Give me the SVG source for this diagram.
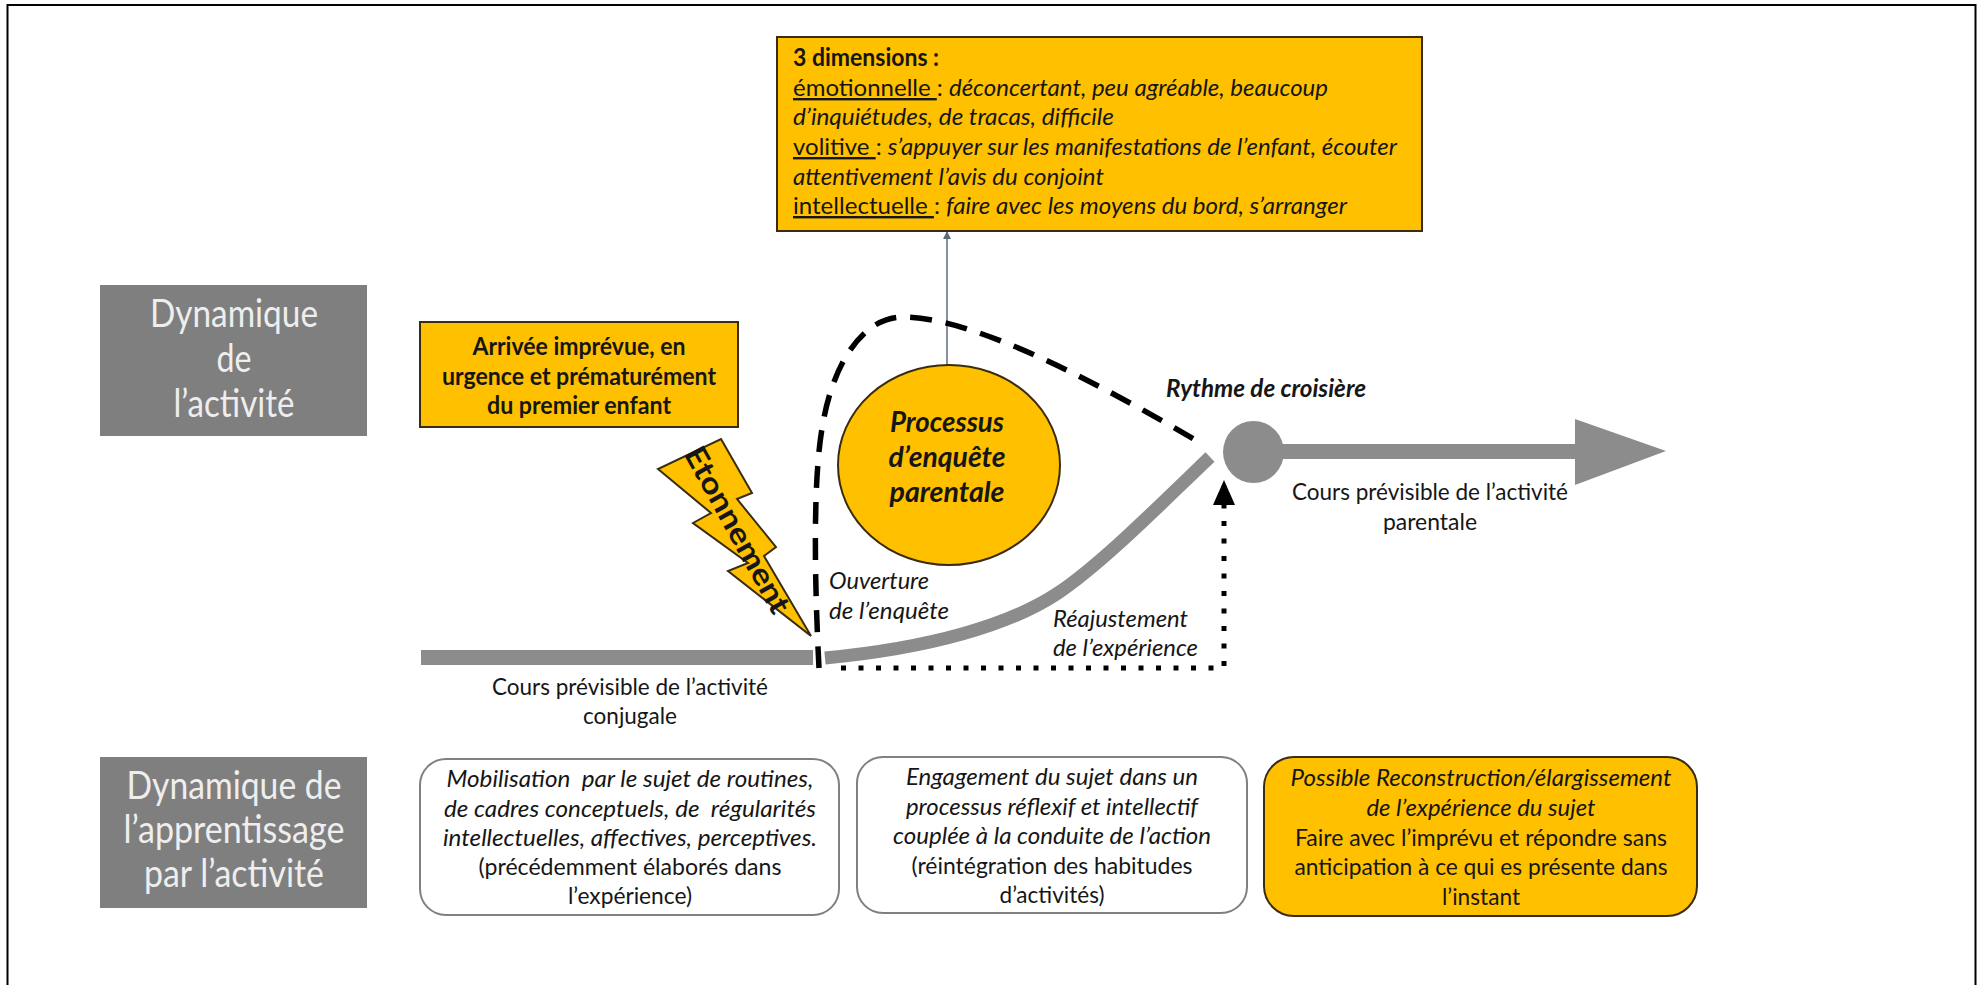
<svg xmlns="http://www.w3.org/2000/svg" width="1982" height="985" viewBox="0 0 1982 985">
<defs>
<marker id="thin" markerWidth="8" markerHeight="10" refX="7" refY="4" orient="auto" markerUnits="userSpaceOnUse"><path d="M0 0L8 4L0 8Z" fill="#5d6b78"/></marker>
<marker id="solid" markerWidth="26" markerHeight="22" refX="25" refY="11" orient="auto" markerUnits="userSpaceOnUse"><path d="M0 0L25 11L0 22Z" fill="#000"/></marker>
</defs>
<style>
text{font-family:Lato,"Liberation Sans",sans-serif;font-size:24px;fill:#161616;white-space:pre}
.m{text-anchor:middle}
.i{font-style:italic}
.b{font-weight:700}
.head{font-size:38px;fill:#eeeeee;text-anchor:middle}
.or{fill:#ffc000;stroke:#3a2c10;stroke-width:2}
.gb{fill:#7f7f7f}
.rw{fill:#fff;stroke:#808080;stroke-width:2}
.g{fill:#8c8c8c}
.u{text-decoration:underline}
</style>
<rect width="1982" height="985" fill="#fff"/>
<rect id="frame" x="7.5" y="5" width="1968" height="990" fill="none" stroke="#000" stroke-width="2"/>

<g id="connectors" fill="none">
<path d="M947 365V232" stroke="#5d6b78" stroke-width="1.5" marker-end="url(#thin)"/>
<path d="M819 668C815 590 812 480 823 423C833 365 862 317 903 317C960 317 1060 360 1202 444" stroke="#000" stroke-width="5.5" stroke-dasharray="22 14"/>
<path d="M825 658C930 648 1010 625 1058 593C1100 565 1160 505 1210 457" stroke="#8c8c8c" stroke-width="13"/>
<path d="M841 668H1224V480" stroke="#000" stroke-width="5" stroke-dasharray="5 12.5" marker-end="url(#solid)"/>
</g>

<g id="dyn-activite"><rect class="gb" x="100" y="285" width="267" height="151"/>
<text class="head" x="234" y="327" textLength="168" lengthAdjust="spacingAndGlyphs">Dynamique</text>
<text class="head" x="234" y="372" textLength="35" lengthAdjust="spacingAndGlyphs">de</text>
<text class="head" x="234" y="417" textLength="121" lengthAdjust="spacingAndGlyphs">l’activité</text></g>

<g id="dyn-apprentissage"><rect class="gb" x="100" y="757" width="267" height="151"/>
<text class="head" x="234" y="799" textLength="215" lengthAdjust="spacingAndGlyphs">Dynamique de</text>
<text class="head" x="234" y="843" textLength="221" lengthAdjust="spacingAndGlyphs">l’apprentissage</text>
<text class="head" x="234" y="887" textLength="180" lengthAdjust="spacingAndGlyphs">par l’activité</text></g>

<g id="dimensions"><rect class="or" x="777" y="37" width="645" height="194"/>
<text class="b" x="793" y="66" textLength="146" lengthAdjust="spacingAndGlyphs">3 dimensions :</text>
<text x="793" y="96" textLength="535" lengthAdjust="spacingAndGlyphs"><tspan class="u">émotionnelle </tspan>: <tspan class="i">déconcertant, peu agréable, beaucoup</tspan></text>
<text class="i" x="793" y="125" textLength="321" lengthAdjust="spacingAndGlyphs">d’inquiétudes, de tracas, difficile</text>
<text x="793" y="155" textLength="604" lengthAdjust="spacingAndGlyphs"><tspan class="u">volitive </tspan>: <tspan class="i">s’appuyer sur les manifestations de l’enfant, écouter</tspan></text>
<text class="i" x="793" y="185" textLength="311" lengthAdjust="spacingAndGlyphs">attentivement l’avis du conjoint</text>
<text x="793" y="214" textLength="554" lengthAdjust="spacingAndGlyphs"><tspan class="u">intellectuelle </tspan>: <tspan class="i">faire avec les moyens du bord, s’arranger</tspan></text></g>

<g id="arrivee"><rect class="or" x="420" y="322" width="318" height="105"/>
<text class="b m" x="579" y="355" textLength="213" lengthAdjust="spacingAndGlyphs">Arrivée imprévue, en</text>
<text class="b m" x="579" y="385" textLength="274" lengthAdjust="spacingAndGlyphs">urgence et prématurément</text>
<text class="b m" x="579" y="414" textLength="184" lengthAdjust="spacingAndGlyphs">du premier enfant</text></g>

<g id="etonnement"><polygon class="or" points="721,439 752,493 737,499 776,547 764,556 811,636 728,571 748,563 693,523 711,513 658,469"/>
<text class="m" transform="translate(737 530) rotate(61)" x="0" y="10" style="font-size:30px;font-weight:700" textLength="186" lengthAdjust="spacingAndGlyphs">Etonnement</text></g>

<g id="processus"><ellipse class="or" cx="949" cy="465" rx="111" ry="100"/>
<text class="b i m" x="947" y="432" style="font-size:29px" textLength="114" lengthAdjust="spacingAndGlyphs">Processus</text>
<text class="b i m" x="947" y="467" style="font-size:29px" textLength="117" lengthAdjust="spacingAndGlyphs">d’enquête</text>
<text class="b i m" x="947" y="502" style="font-size:29px" textLength="115" lengthAdjust="spacingAndGlyphs">parentale</text></g>

<g id="cours-conjugal"><rect class="g" x="421" y="650" width="392" height="15"/>
<text class="m" x="630" y="695" textLength="276" lengthAdjust="spacingAndGlyphs">Cours prévisible de l’activité</text>
<text class="m" x="630" y="724" textLength="94" lengthAdjust="spacingAndGlyphs">conjugale</text></g>

<g id="cours-parental"><ellipse class="g" cx="1253.5" cy="452" rx="30.5" ry="31"/>
<path class="g" d="M1280 444H1575V419L1666 451L1575 485V459H1280Z"/>
<text class="m" x="1430" y="500" textLength="276" lengthAdjust="spacingAndGlyphs">Cours prévisible de l’activité</text>
<text class="m" x="1430" y="530" textLength="94" lengthAdjust="spacingAndGlyphs">parentale</text></g>

<text class="b i" x="1166" y="397" textLength="200" lengthAdjust="spacingAndGlyphs">Rythme de croisière</text>
<text class="i" x="829" y="589" textLength="100" lengthAdjust="spacingAndGlyphs">Ouverture</text>
<text class="i" x="829" y="619" textLength="120" lengthAdjust="spacingAndGlyphs">de l’enquête</text>
<text class="i" x="1053" y="627" textLength="135" lengthAdjust="spacingAndGlyphs">Réajustement</text>
<text class="i" x="1053" y="656" textLength="145" lengthAdjust="spacingAndGlyphs">de l’expérience</text>

<g id="mobilisation"><rect class="rw" x="420" y="759" width="419" height="156" rx="26"/>
<text class="i m" x="630" y="787" textLength="367" lengthAdjust="spacingAndGlyphs">Mobilisation  par le sujet de routines,</text>
<text class="i m" x="630" y="817" textLength="372" lengthAdjust="spacingAndGlyphs">de cadres conceptuels, de  régularités</text>
<text class="i m" x="630" y="846" textLength="374" lengthAdjust="spacingAndGlyphs">intellectuelles, affectives, perceptives.</text>
<text class="m" x="630" y="875" textLength="303" lengthAdjust="spacingAndGlyphs">(précédemment élaborés dans</text>
<text class="m" x="630" y="904" textLength="124" lengthAdjust="spacingAndGlyphs">l’expérience)</text></g>

<g id="engagement"><rect class="rw" x="857" y="757" width="390" height="156" rx="26"/>
<text class="i m" x="1052" y="785" textLength="292" lengthAdjust="spacingAndGlyphs">Engagement du sujet dans un</text>
<text class="i m" x="1052" y="815" textLength="292" lengthAdjust="spacingAndGlyphs">processus réflexif et intellectif</text>
<text class="i m" x="1052" y="844" textLength="318" lengthAdjust="spacingAndGlyphs">couplée à la conduite de l’action</text>
<text class="m" x="1052" y="874" textLength="281" lengthAdjust="spacingAndGlyphs">(réintégration des habitudes</text>
<text class="m" x="1052" y="903" textLength="105" lengthAdjust="spacingAndGlyphs">d’activités)</text></g>

<g id="reconstruction"><rect class="or" x="1264" y="757" width="433" height="159" rx="30"/>
<text class="i m" x="1481" y="786" textLength="381" lengthAdjust="spacingAndGlyphs">Possible Reconstruction/élargissement</text>
<text class="i m" x="1481" y="816" textLength="229" lengthAdjust="spacingAndGlyphs">de l’expérience du sujet</text>
<text class="m" x="1481" y="846" textLength="372" lengthAdjust="spacingAndGlyphs">Faire avec l’imprévu et répondre sans</text>
<text class="m" x="1481" y="875" textLength="373" lengthAdjust="spacingAndGlyphs">anticipation à ce qui es présente dans</text>
<text class="m" x="1481" y="905" textLength="78" lengthAdjust="spacingAndGlyphs">l’instant</text></g>
</svg>
